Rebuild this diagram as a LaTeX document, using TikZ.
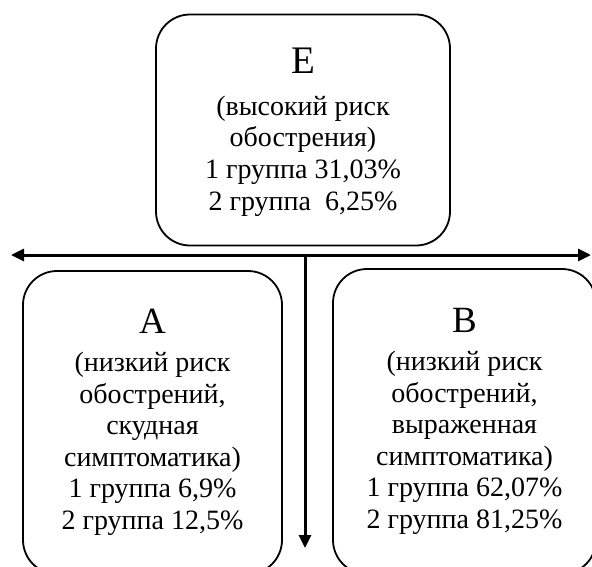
\documentclass[tikz,border=0pt]{standalone}
\usepackage{fontspec}
\setmainfont{Liberation Serif}
\usepackage{tikz}
\usetikzlibrary{arrows.meta,positioning}

\begin{document}
\begin{tikzpicture}[
    x=1pt, y=-1pt,
    riskbox/.style={draw, line width=1.8pt, rounded corners=34pt, align=center, inner sep=0pt,
        font=\fontsize{28}{31.6}\selectfont},
    axis/.style={line width=3pt, -{Triangle[length=13pt, width=12pt]}},
    every node/.style={font=\fontsize{28}{31.6}\selectfont}
]
    \useasboundingbox (0,0) rectangle (592,566);

    % Groups
    \node[riskbox, minimum width=294, minimum height=231] (grE) at (303,130)
        {\rule{0pt}{30pt}{\fontsize{39}{40}\selectfont E}\\[10pt] (высокий риск\\ обострения)\\ 1 группа 31,03\%\\ 2 группа \ 6,25\%};
    \node[riskbox, minimum width=259, minimum height=303] (grA) at (152.5,422.5)
        {{\fontsize{37}{38}\selectfont A}\\[6pt] (низкий риск\\ обострений,\\ скудная\\ симптоматика)\\ 1 группа 6,9\%\\ 2 группа 12,5\%};
    \node[riskbox, minimum width=263, minimum height=305] (grB) at (464.5,421.5)
        {{\fontsize{37}{38}\selectfont B}\\[6pt] (низкий риск\\ обострений,\\ выраженная\\ симптоматика)\\ 1 группа 62,07\%\\ 2 группа 81,25\%};

    % Axes
    \coordinate (left) at (11,255);
    \coordinate (right) at (591,255);
    \coordinate (split) at (305,255);
    \coordinate (down) at (305,548);
    \draw[axis, {Triangle[length=13pt, width=12pt]}-{Triangle[length=13pt, width=12pt]}] (left) -- (right);
    \draw[axis] (split) -- (down);
\end{tikzpicture}
\end{document}
